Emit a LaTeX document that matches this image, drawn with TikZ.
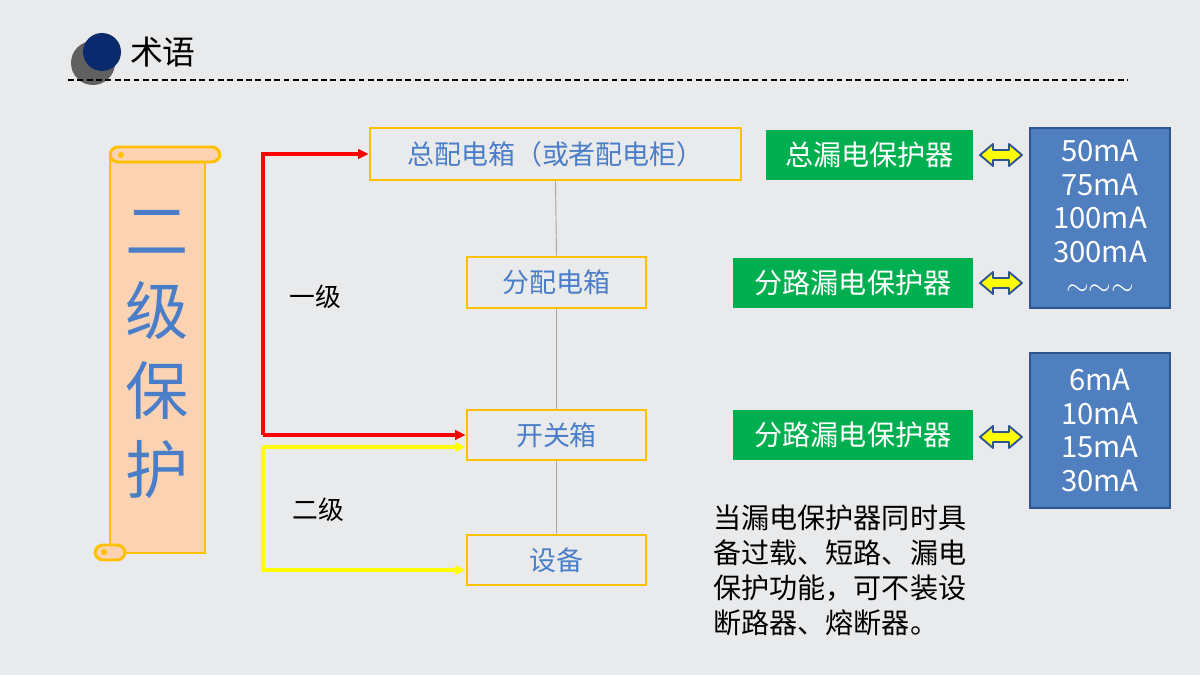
\documentclass[tikz,border=0pt]{standalone}
\usepackage{fontspec}
\setmainfont{Noto Sans CJK SC}
\usetikzlibrary{arrows.meta}
\definecolor{bg}{HTML}{E9EAEC}
\definecolor{navy}{HTML}{0A2A6E}
\definecolor{scrollf}{HTML}{FBD3B2}
\definecolor{gold}{HTML}{FFC000}
\definecolor{txtblue}{HTML}{4A7EC8}
\definecolor{grn}{HTML}{00B050}
\definecolor{bbox}{HTML}{4F7FBF}
\definecolor{bboxd}{HTML}{2F558F}
\definecolor{ylw}{HTML}{FFFF00}
\tikzset{
  px/.style={x=0.03cm,y=-0.03cm},
  obox/.style={draw=gold,line width=2.2pt,text=txtblue,font=\fontsize{23}{26}\selectfont,inner sep=0pt},
  gbox/.style={fill=grn,text=white,font=\fontsize{24}{28}\selectfont,inner sep=0pt},
  bluebox/.style={fill=bbox,draw=bboxd,line width=1pt,text=white,font=\fontsize{25}{28.5}\selectfont,align=center,inner sep=0pt},
  redl/.style={draw=red,line width=3pt,-{Triangle[length=9pt,width=8pt]}},
  ylwl/.style={draw=ylw,line width=3pt,-{Triangle[length=9pt,width=8pt]}},
}
\newcommand{\dblarrow}[2]{%
  \draw[fill=ylw,draw=bboxd,line width=1.6pt,line join=round]
    (#1,#2) -- ++(13,-11) -- ++(0,6) -- ++(16,0) -- ++(0,-6) -- ++(13,11)
    -- ++(-13,11) -- ++(0,-6) -- ++(-16,0) -- ++(0,6) -- cycle;}
\begin{document}
\begin{tikzpicture}[px]
\fill[bg] (0,0) rectangle (1200,675);
\useasboundingbox (0,0) rectangle (1200,675);
% header
\fill[gray!75!black] (93,63) circle[radius=22];
\fill[navy] (102,52) circle[radius=19];
\node[anchor=west,font=\fontsize{28}{30}\selectfont] (title) at (126,52) {术语};
\draw[dashed,line width=1pt,dash pattern=on 5pt off 3pt] (68,80) -- (1128,80);
% scroll
\draw[gold,line width=2.5pt,fill=scrollf] (110,155) rectangle (205,553);
\draw[gold,line width=2.5pt,fill=scrollf,rounded corners=7pt] (110,147) rectangle (220,162);
\draw[gold,line width=2.5pt,fill=scrollf,rounded corners=7pt] (95,545) rectangle (125,560);
\fill[gold] (121,155) circle[radius=3];
\fill[gold] (104,552) circle[radius=3];
\node[text=txtblue,font=\fontsize{54}{68}\selectfont,align=center] (scrolltxt) at (157,355) {二\\级\\保\\护};
% boxes
\node[obox,minimum width=11.13cm,minimum height=1.56cm] (main) at (555.5,154) {总配电箱（或者配电柜）};
\node[obox,minimum width=5.37cm,minimum height=1.53cm] (sub) at (556.5,282.5) {分配电箱};
\node[obox,minimum width=5.37cm,minimum height=1.5cm] (sw) at (556.5,435) {开关箱};
\node[obox,minimum width=5.37cm,minimum height=1.5cm] (dev) at (556.5,560) {设备};
\draw[gray!70,line width=0.8pt] (main.south) -- (sub.north);
\draw[gray!70,line width=0.8pt] (sub.south) -- (sw.north);
\draw[gray!70,line width=0.8pt] (sw.south) -- (dev.north);
% arrows
\coordinate (r0) at (263,435);
\coordinate (y0) at (263,447);
\draw[redl] (r0) |- (main.west);
\draw[redl] (r0) -- (sw.west |- r0);
\draw[ylwl] (y0) -- (sw.west |- y0);
\draw[ylwl] (y0) |- (dev.west |- 0,570);
\node[font=\fontsize{22}{26}\selectfont] (l1) at (315,297) {一级};
\node[font=\fontsize{22}{26}\selectfont] (l2) at (318,510) {二级};
% green
\node[gbox,minimum width=6.21cm,minimum height=1.5cm] (g1) at (869.5,155) {总漏电保护器};
\node[gbox,minimum width=7.2cm,minimum height=1.5cm] (g2) at (853,283) {分路漏电保护器};
\node[gbox,minimum width=7.2cm,minimum height=1.5cm] (g3) at (853,435) {分路漏电保护器};
\dblarrow{980}{155}
\dblarrow{980}{283}
\dblarrow{980}{437}
% blue
\node[bluebox,minimum width=4.2cm,minimum height=5.4cm] (b1) at (1100,218) {50mA\\75mA\\100mA\\300mA\\$\sim\sim\sim$};
\node[bluebox,minimum width=4.2cm,minimum height=4.65cm] (b2) at (1100,430.5) {6mA\\10mA\\15mA\\30mA};
% note
\node[anchor=north west,align=left,font=\fontsize{24}{29.8}\selectfont,inner sep=0pt] (note) at (713,505) {当漏电保护器同时具\\备过载、短路、漏电\\保护功能，可不装设\\断路器、熔断器。};
\end{tikzpicture}
\end{document}
